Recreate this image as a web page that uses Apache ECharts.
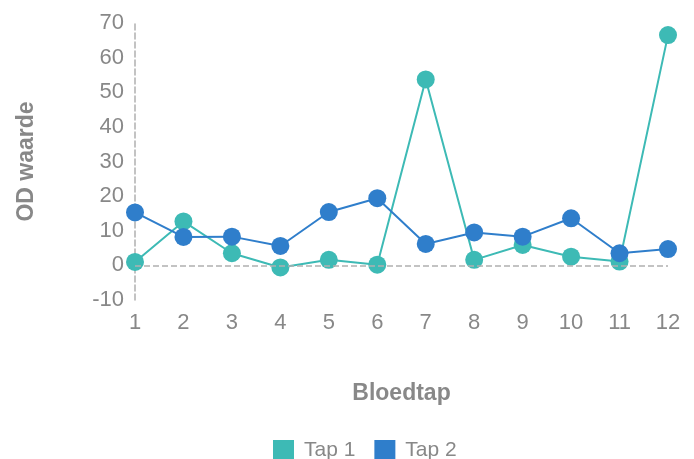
<!DOCTYPE html>
<html>
<head>
<meta charset="utf-8">
<script src="https://cdn.jsdelivr.net/npm/echarts@6/dist/echarts.min.js"></script>
<style>
html, body { margin: 0; padding: 0; background: #fff; }
#main { width: 694px; height: 459px; }
</style>
</head>
<body>
<div id="main"></div>
<script>
// bloedtap nummers en OD waarden
var bloedtap = ["1", "2", "3", "4", "5", "6", "7", "8", "9", "10", "11", "12"];
var tap1 = [1.0, 12.7, 3.5, -0.6, 1.6, 0.2, 53.7, 1.6, 5.9, 2.5, 1.1, 66.5];
var tap2 = [15.3, 8.2, 8.3, 5.6, 15.4, 19.4, 6.2, 9.5, 8.3, 13.6, 3.5, 4.7];

var grijs = "#888888";
var font = "Liberation Sans";

var chart = echarts.init(document.getElementById('main'));
chart.setOption({
    color: ["#3dbab5", "#2f7ecb"],
    legend: {
        left: 273,
        bottom: -2,
        padding: 0,
        icon: "rect",
        itemWidth: 21,
        itemHeight: 21,
        itemGap: 19,
        textStyle: { color: grijs, fontSize: 21, fontFamily: font, padding: [0, 0, 0, 5] },
        data: ["Tap 1", "Tap 2"]
    },
    grid: { left: 135, right: 26, top: 23, bottom: 159 },
    xAxis: {
        type: "category",
        data: bloedtap,
        boundaryGap: false,
        name: "Bloedtap",
        nameLocation: "middle",
        nameGap: 82,
        nameTextStyle: { color: grijs, fontSize: 23, fontWeight: "bold", fontFamily: font },
        axisLine: { show: false },
        axisTick: { show: false },
        axisLabel: { color: grijs, fontSize: 22, margin: 12, fontFamily: font }
    },
    yAxis: {
        type: "value",
        min: -10,
        max: 70,
        interval: 10,
        name: "OD waarde",
        nameLocation: "middle",
        nameGap: 97,
        nameTextStyle: { color: grijs, fontSize: 23, fontWeight: "bold", fontFamily: font },
        axisLine: { show: true, lineStyle: { color: "#b0b0b0", type: "dashed", width: 1.5 } },
        axisTick: { show: false },
        splitLine: { show: false },
        axisLabel: { color: grijs, fontSize: 22, margin: 11, fontFamily: font }
    },
    series: [
        {
            name: "Tap 1",
            type: "line",
            data: tap1,
            symbol: "circle",
            symbolSize: 18,
            lineStyle: { width: 2 },
            markLine: {
                silent: true,
                symbol: "none",
                label: { show: false },
                lineStyle: { color: "#b0b0b0", type: "dashed", width: 1.5 },
                data: [{ yAxis: 0 }]
            },
            z: 2
        },
        {
            name: "Tap 2",
            type: "line",
            data: tap2,
            symbol: "circle",
            symbolSize: 18,
            lineStyle: { width: 2 },
            z: 3
        }
    ]
});
</script>
</body>
</html>
